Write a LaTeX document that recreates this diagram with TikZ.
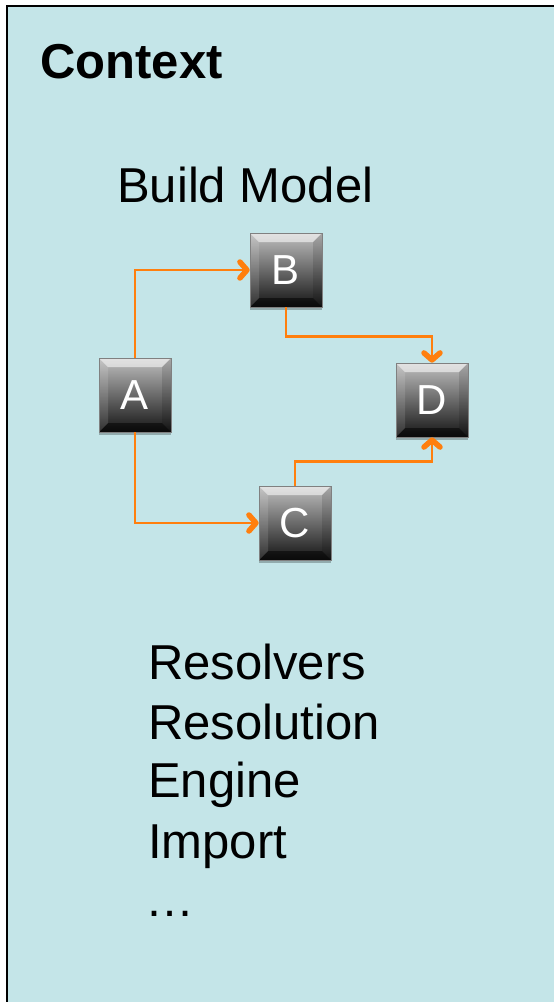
\documentclass[tikz,border=0pt]{standalone}
\usepackage{fontspec}
\setmainfont{Liberation Sans}
\usetikzlibrary{arrows.meta,shadows}
\definecolor{bgc}{HTML}{C4E5E8}
\definecolor{arrc}{HTML}{FF7F0E}
\tikzset{
  keybox/.style={minimum width=72pt, minimum height=74pt, inner sep=0pt,
    text=white, font=\fontsize{42}{42}\selectfont,
    top color=black!25, bottom color=black!92, draw=black!50, line width=0.6pt,
    drop shadow={shadow xshift=0pt, shadow yshift=-3pt, opacity=0.25, fill=black},
    path picture={
      \fill[white, opacity=0.55] (path picture bounding box.north west) -- (path picture bounding box.north east)
        -- ([xshift=-9pt,yshift=-9pt]path picture bounding box.north east) -- ([xshift=9pt,yshift=-9pt]path picture bounding box.north west) -- cycle;
      \fill[black, opacity=0.5] (path picture bounding box.south west) -- (path picture bounding box.south east)
        -- ([xshift=-9pt,yshift=9pt]path picture bounding box.south east) -- ([xshift=9pt,yshift=9pt]path picture bounding box.south west) -- cycle;
      \fill[white, opacity=0.12] (path picture bounding box.north west) -- (path picture bounding box.south west)
        -- ([xshift=9pt,yshift=9pt]path picture bounding box.south west) -- ([xshift=9pt,yshift=-9pt]path picture bounding box.north west) -- cycle;
      \fill[black, opacity=0.12] (path picture bounding box.north east) -- (path picture bounding box.south east)
        -- ([xshift=-9pt,yshift=9pt]path picture bounding box.south east) -- ([xshift=-9pt,yshift=-9pt]path picture bounding box.north east) -- cycle;
    }},
  conn/.style={draw=arrc, line width=2.8pt,
    -{Straight Barb[length=7pt,width=16pt,line width=5.5pt,line cap=round,line join=round]}},
  bigtext/.style={font=\fontsize{49}{59}\selectfont, inner sep=0pt, anchor=base west}
}
\begin{document}
\begin{tikzpicture}[x=1pt,y=-1pt]
\useasboundingbox (0,0) rectangle (554,1002);
\fill[white] (0,0) rectangle (554,1002);
\fill[bgc] (7,6) rectangle (554,1002);
\draw[line width=2.2pt, line cap=rect] (7,1002) -- (7,6) -- (554,6);

\node[bigtext, font=\fontsize{49}{59}\selectfont\bfseries] (ctx) at (40,78) {Context};
\node[bigtext] (bm) at (117,202) {Build Model};

\node[keybox] (A) at (135,395) {A};
\node[keybox] (B) at (286,270) {B};
\node[keybox] (C) at (295,523) {C};
\node[keybox] (D) at (432,400) {D};

\draw[conn] (A.north) |- (B.west);
\draw[conn] (B.south) -- ++(0,29) -| (D.north);
\draw[conn] (A.south) |- (C.west);
\draw[conn] (C.north) -- ++(0,-24) -| (D.south);

\node[bigtext] (l1) at (148,679) {Resolvers};
\node[bigtext] (l2) at (148,739) {Resolution};
\node[bigtext] (l3) at (148,797) {Engine};
\node[bigtext] (l4) at (148,858) {Import};
\node[bigtext] (l5) at (145,916) {…};
\end{tikzpicture}
\end{document}
